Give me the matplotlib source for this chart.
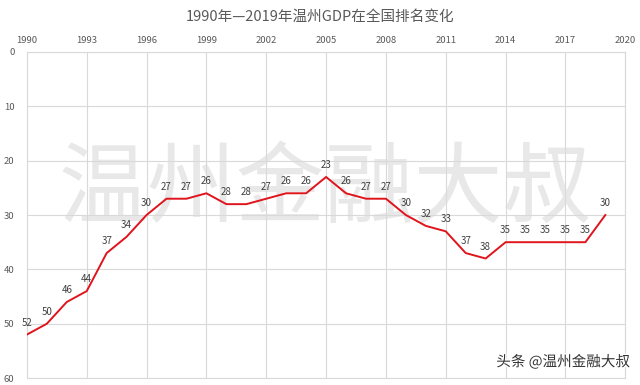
import matplotlib
matplotlib.use("Agg")
import matplotlib.pyplot as plt
import matplotlib.patheffects as pe

plt.rcParams["font.family"] = ["Noto Sans CJK SC", "DejaVu Sans"]

years = list(range(1990, 2020))
ranks = [52, 50, 46, 44, 37, 34, 30, 27, 27, 26,
         28, 28, 27, 26, 26, 23, 26, 27, 27, 30,
         32, 33, 37, 38, 35, 35, 35, 35, 35, 30]
x_ticks = list(range(1990, 2021, 3))
y_ticks = [0, 10, 20, 30, 40, 50, 60]

TEXT = "#595959"
GRID = "#d9d9d9"

fig = plt.figure(figsize=(6.4, 3.85), dpi=100)
ax = fig.add_axes([0.042, 0.018, 0.935, 0.847])

ax.plot(years, ranks, color="#e0141c", linewidth=1.4, zorder=3)
for x, y in zip(years, ranks):
    ax.annotate(str(y), (x, y), textcoords="offset points", xytext=(0, 5),
                ha="center", va="bottom", fontsize=7, color="#404040", zorder=4)

ax.set_xlim(1990, 2020)
ax.set_ylim(60, 0)
ax.set_xticks(x_ticks)
ax.set_yticks(y_ticks)
ax.xaxis.tick_top()
ax.tick_params(axis="both", length=0, labelsize=6.8, labelcolor=TEXT)
ax.tick_params(axis="x", pad=5)
ax.tick_params(axis="y", pad=9)
ax.grid(True, color=GRID, linewidth=0.8)
for s in ax.spines.values():
    s.set_color(GRID)
    s.set_linewidth(0.8)

fig.text(0.5, 0.955, "1990年—2019年温州GDP在全国排名变化", ha="center", va="center",
         fontsize=10.5, color=TEXT)

# watermark
fig.text(0.508, 0.505, "温州金融大叔", ha="center", va="center",
         fontsize=64, color="#e8e8e8", zorder=0)
ax.set_zorder(1)
ax.patch.set_alpha(0)

fig.text(0.985, 0.06, "头条 @温州金融大叔", ha="right", va="center", fontsize=10.5,
         color="#333333", path_effects=[pe.withStroke(linewidth=2, foreground="white")])

fig.savefig("out.png", dpi=100, facecolor="white")
